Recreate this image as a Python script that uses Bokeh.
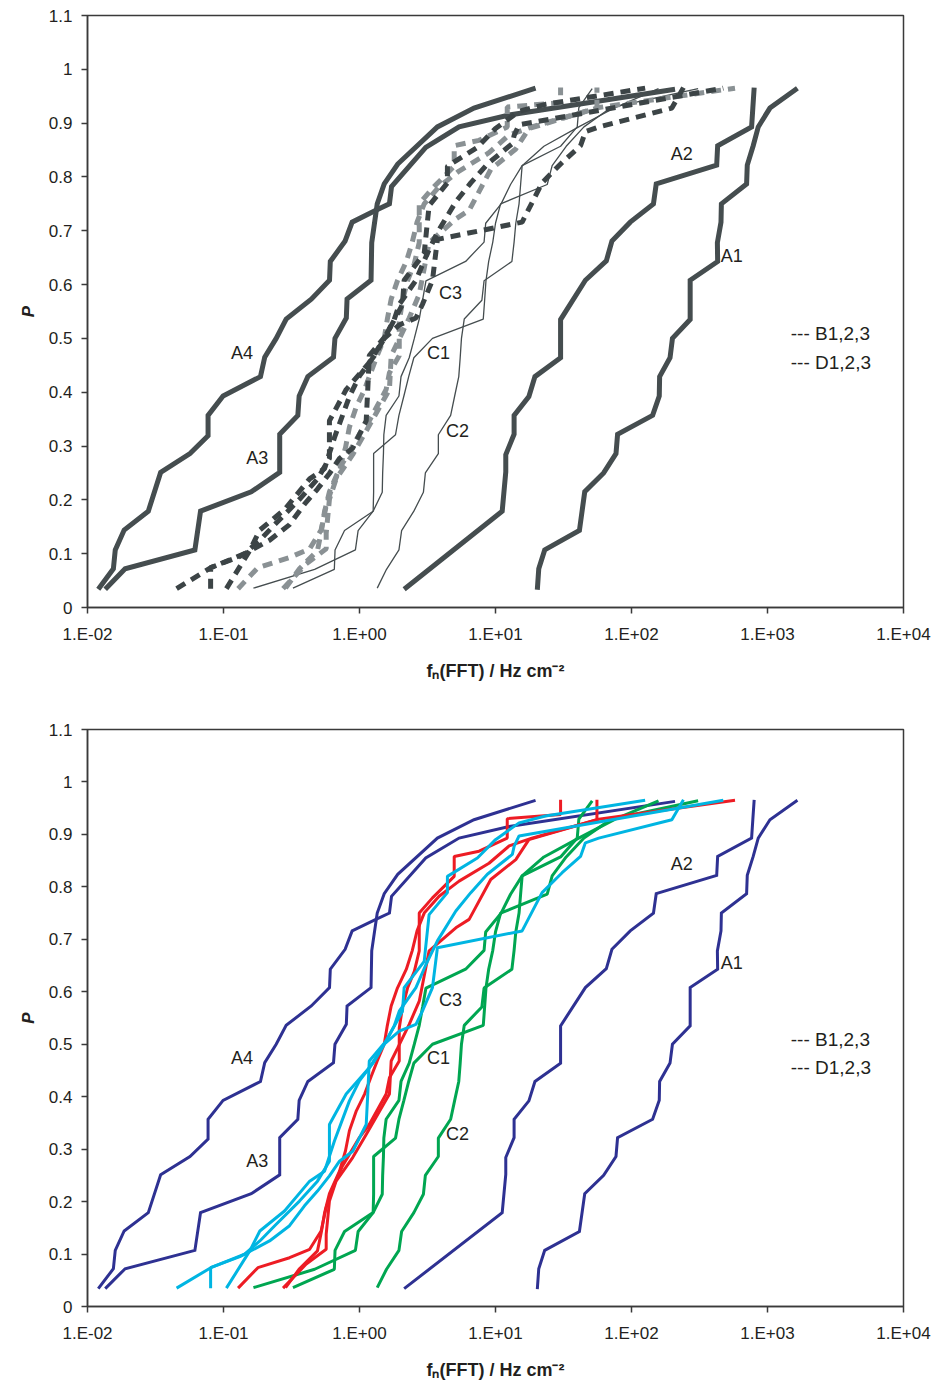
from bokeh.plotting import figure
from bokeh.models import FixedTicker, Label
from bokeh.layouts import column
from bokeh.embed import file_html
from bokeh.resources import INLINE

FONT = "Liberation Sans"
INK = "#231f20"
FRAME = "#3a3a3a"

X_TICKS = [0.01, 0.1, 1, 10, 100, 1000, 10000]
X_TICK_LABELS = ["1.E-02", "1.E-01", "1.E+00", "1.E+01", "1.E+02", "1.E+03", "1.E+04"]
Y_TICKS = [0, 0.1, 0.2, 0.3, 0.4, 0.5, 0.6, 0.7, 0.8, 0.9, 1.0, 1.1]
Y_TICK_LABELS = ["0", "0.1", "0.2", "0.3", "0.4", "0.5", "0.6", "0.7", "0.8", "0.9", "1", "1.1"]
X_TITLE = "f\u2099(FFT) / Hz cm\u207b\u00b2"
Y_TITLE = "P"

# ---- A curves (frequency, cumulative probability) ----
A1_F = [20.3, 20.8, 23.0, 41.4, 45.3, 62.4, 76.9, 79.0, 143, 160, 161, 192, 200, 270, 270,
        430, 428, 455, 458, 702, 710, 785, 855, 1042, 1660]
A1_P = [0.033, 0.072, 0.107, 0.143, 0.215, 0.25, 0.286, 0.322, 0.357, 0.393, 0.429, 0.464, 0.5,
        0.535, 0.608, 0.643, 0.678, 0.716, 0.75, 0.787, 0.822, 0.858, 0.893, 0.928, 0.965]

A2_F = [2.13, 11.2, 11.9, 11.9, 13.7, 13.7, 17.6, 19.5, 30.1, 30.1, 45.8, 65.3, 71.8, 97.9,
        145, 152, 423, 430, 764, 780, 798]
A2_P = [0.034, 0.179, 0.252, 0.284, 0.322, 0.357, 0.392, 0.429, 0.464, 0.535, 0.608, 0.644,
        0.681, 0.716, 0.75, 0.787, 0.822, 0.858, 0.893, 0.928, 0.966]

A3_F = [0.0135, 0.0189, 0.0616, 0.0678, 0.160, 0.259, 0.259, 0.352, 0.36, 0.417, 0.644, 0.66,
        0.80, 0.81, 1.216, 1.23, 1.35, 1.52, 1.91, 3.74, 6.95, 19.7]
A3_P = [0.034, 0.072, 0.107, 0.179, 0.215, 0.251, 0.322, 0.357, 0.393, 0.429, 0.465, 0.5,
        0.538, 0.573, 0.608, 0.678, 0.75, 0.787, 0.824, 0.893, 0.928, 0.965]

A4_F = [0.0120, 0.0155, 0.0160, 0.0186, 0.028, 0.0345, 0.0567, 0.077, 0.077, 0.0993, 0.187,
        0.201, 0.244, 0.289, 0.442, 0.602, 0.61, 0.784, 0.883, 1.32, 1.66, 1.72, 3.07, 5.4,
        12.6, 209]
A4_P = [0.034, 0.072, 0.107, 0.144, 0.179, 0.251, 0.286, 0.319, 0.357, 0.393, 0.429, 0.465,
        0.5, 0.536, 0.573, 0.608, 0.643, 0.681, 0.716, 0.738, 0.75, 0.782, 0.855, 0.893,
        0.915, 0.963]

# ---- C curves (27 points each) ----
C_P = [0.036, 0.071, 0.107, 0.143, 0.179, 0.214, 0.25, 0.286, 0.321, 0.357, 0.393, 0.429,
       0.464, 0.5, 0.536, 0.571, 0.607, 0.643, 0.679, 0.714, 0.75, 0.786, 0.821, 0.857,
       0.893, 0.929, 0.964]
C1_F = [0.324, 0.653, 0.661, 0.776, 1.26, 1.27, 1.27, 1.27, 1.84, 1.95, 2.12, 2.30, 2.51,
        3.44, 8.13, 8.32, 8.51, 8.91, 9.55, 10.0, 10.9, 24.0, 26.1, 33.1, 44.7, 70.8, 309]
C2_F = [1.35, 1.58, 1.95, 2.04, 2.51, 2.95, 3.05, 3.80, 3.80, 4.68, 5.01, 5.37, 5.50, 5.62,
        5.89, 7.94, 8.24, 13.2, 13.7, 14.1, 14.9, 15.3, 15.7, 22.7, 40.9, 75.9, 158]
C3_F = [0.166, 0.468, 0.933, 0.977, 1.26, 1.47, 1.48, 1.50, 1.51, 1.57, 1.95, 2.02, 2.32,
        2.53, 2.75, 2.91, 3.08, 6.03, 8.24, 8.47, 11.0, 12.9, 15.7, 30.1, 39.9, 41.0, 51.4]

# ---- B curves ----
B1_F = [0.0452, 0.0807, 0.143, 0.185, 0.238, 0.362, 0.491, 0.601, 0.601, 0.798, 1.18, 1.52,
        1.96, 2.60, 2.90, 3.44, 3.74, 15.7, 22.0, 30.9, 42.2, 45.8, 57.4, 198, 241]
B1_P = [0.035, 0.074, 0.100, 0.125, 0.154, 0.201, 0.239, 0.277, 0.347, 0.405, 0.455, 0.500,
        0.525, 0.538, 0.563, 0.608, 0.684, 0.716, 0.789, 0.827, 0.858, 0.884, 0.893, 0.928,
        0.966]
B2_F = [0.0804, 0.0804, 0.132, 0.218, 0.306, 0.394, 0.491, 0.601, 0.713, 0.891, 1.12, 1.15,
        1.18, 1.57, 2.07, 2.13, 2.99, 3.08, 3.25, 4.43, 4.43, 7.36, 10.0, 14.9, 23.3, 126]
B2_P = [0.035, 0.074, 0.095, 0.125, 0.154, 0.192, 0.220, 0.249, 0.277, 0.296, 0.347, 0.405,
        0.468, 0.506, 0.563, 0.608, 0.658, 0.690, 0.747, 0.789, 0.820, 0.855, 0.890, 0.922,
        0.935, 0.965]
B3_F = [0.105, 0.156, 0.185, 0.281, 0.430, 0.553, 0.655, 0.843, 0.998, 1.29, 1.52, 1.80,
        1.96, 2.60, 3.08, 3.74, 5.11, 6.58, 8.71, 13.3, 13.7, 14.9, 473]
B3_P = [0.035, 0.106, 0.144, 0.182, 0.239, 0.258, 0.316, 0.392, 0.430, 0.468, 0.500, 0.535,
        0.563, 0.608, 0.652, 0.697, 0.754, 0.789, 0.824, 0.862, 0.877, 0.897, 0.965]

# ---- D curves ----
D1_F = [0.128, 0.179, 0.306, 0.430, 0.522, 0.569, 0.637, 0.750, 0.843, 0.998, 1.18, 1.57,
        1.66, 1.96, 1.96, 2.07, 2.26, 2.53, 2.75, 2.75, 3.44, 4.97, 4.97, 7.57, 12.2, 12.2,
        30.1, 30.1]
D1_P = [0.035, 0.074, 0.093, 0.109, 0.144, 0.189, 0.227, 0.268, 0.290, 0.322, 0.347, 0.405,
        0.436, 0.468, 0.531, 0.570, 0.608, 0.639, 0.678, 0.750, 0.779, 0.820, 0.858, 0.868,
        0.893, 0.930, 0.938, 0.966]
D2_F = [0.274, 0.406, 0.569, 0.569, 0.601, 0.673, 0.891, 1.12, 1.66, 1.71, 1.91, 2.32, 2.75,
        2.99, 3.25, 5.11, 6.40, 9.23, 14.1, 17.6, 55.7, 55.7]
D2_P = [0.035, 0.081, 0.109, 0.138, 0.201, 0.239, 0.284, 0.328, 0.405, 0.468, 0.493, 0.538,
        0.582, 0.630, 0.678, 0.722, 0.738, 0.814, 0.852, 0.890, 0.928, 0.966]
D3_F = [0.286, 0.362, 0.491, 0.526, 0.553, 0.601, 0.713, 0.789, 0.843, 0.948, 1.09, 1.22,
        1.35, 1.52, 1.60, 1.71, 1.90, 2.21, 2.44, 2.65, 2.99, 3.85, 5.40, 8.96, 12.6, 18.5,
        57.4, 577]
D3_P = [0.036, 0.072, 0.106, 0.144, 0.178, 0.215, 0.258, 0.297, 0.335, 0.373, 0.405, 0.439,
        0.468, 0.500, 0.535, 0.573, 0.607, 0.643, 0.678, 0.716, 0.750, 0.782, 0.811, 0.845,
        0.878, 0.893, 0.929, 0.965]

CURVE_LABELS = ["A2", "A1", "A4", "A3", "C3", "C1", "C2"]
CURVE_LABEL_F = [234, 546, 0.137, 0.177, 4.67, 3.81, 5.25]
CURVE_LABEL_P = [0.843, 0.654, 0.473, 0.277, 0.585, 0.473, 0.328]
LEGEND_TEXT = ["--- B1,2,3", "--- D1,2,3"]
LEGEND_F = [1483, 1483]
LEGEND_P = [0.509, 0.455]


def make_fig(width, height, frame_w, border_top, border_bottom):
    p = figure(width=width, height=height, x_axis_type="log",
               x_range=(0.01, 10000), y_range=(0, 1.1),
               output_backend="svg", toolbar_location=None,
               min_border_left=87, min_border_right=width - 87 - frame_w,
               min_border_top=border_top, min_border_bottom=border_bottom)
    p.xgrid.visible = False
    p.ygrid.visible = False
    p.outline_line_color = FRAME
    p.outline_line_width = 1.5
    p.background_fill_color = "white"
    p.border_fill_color = "white"

    p.xaxis.ticker = FixedTicker(ticks=X_TICKS)
    p.xaxis.major_label_overrides = dict(zip(X_TICKS, X_TICK_LABELS))
    p.yaxis.ticker = FixedTicker(ticks=Y_TICKS)
    p.yaxis.major_label_overrides = dict(zip(Y_TICKS, Y_TICK_LABELS))
    for ax in (p.xaxis, p.yaxis):
        ax.axis_line_color = FRAME
        ax.axis_line_width = 1.5
        ax.major_tick_line_color = FRAME
        ax.major_tick_line_width = 1.5
        ax.major_tick_in = 0
        ax.major_tick_out = 6
        ax.minor_tick_line_color = None
        ax.major_label_text_font = FONT
        ax.major_label_text_font_size = "17px"
        ax.major_label_text_color = INK
        ax.axis_label_text_font = FONT
        ax.axis_label_text_color = INK
    p.xaxis.major_label_standoff = 11
    p.yaxis.major_label_standoff = 9

    p.yaxis.axis_label = Y_TITLE
    p.yaxis.axis_label_text_font_style = "bold italic"
    p.yaxis.axis_label_text_font_size = "17px"
    p.yaxis.axis_label_standoff = 8

    p.xaxis.axis_label = X_TITLE
    p.xaxis.axis_label_text_font_style = "bold"
    p.xaxis.axis_label_text_font_size = "18px"
    p.xaxis.axis_label_standoff = 14

    for t, f, pr in zip(CURVE_LABELS, CURVE_LABEL_F, CURVE_LABEL_P):
        p.add_layout(Label(x=f, y=pr, text=t, text_font=FONT, text_font_size="18px",
                           text_color=INK, text_align="center", text_baseline="middle"))
    for t, f, pr in zip(LEGEND_TEXT, LEGEND_F, LEGEND_P):
        p.add_layout(Label(x=f, y=pr, text=t, text_font=FONT, text_font_size="19px",
                           text_color=INK, text_align="left", text_baseline="middle"))
    return p


A_SET = [(A1_F, A1_P), (A2_F, A2_P), (A3_F, A3_P), (A4_F, A4_P)]
C_SET = [(C1_F, C_P), (C2_F, C_P), (C3_F, C_P)]
B_SET = [(B1_F, B1_P), (B2_F, B2_P), (B3_F, B3_P)]
D_SET = [(D1_F, D1_P), (D2_F, D2_P), (D3_F, D3_P)]

# ---- top (greyscale) ----
p1 = make_fig(937, 708, 816, 15, 101)
for f, pr in A_SET:
    p1.line(f, pr, line_color="#454d4f", line_width=5, line_join="miter")
for f, pr in C_SET:
    p1.line(f, pr, line_color="#454d4f", line_width=1.3)
for f, pr in D_SET:
    p1.line(f, pr, line_color="#8a9194", line_width=5, line_dash="10 7")
for f, pr in B_SET:
    p1.line(f, pr, line_color="#3c4446", line_width=5, line_dash="10 7")

# ---- bottom (colour) ----
p2 = make_fig(937, 676, 820, 21, 78)
for f, pr in A_SET:
    p2.line(f, pr, line_color="#2e3192", line_width=3, line_join="miter")
for f, pr in C_SET:
    p2.line(f, pr, line_color="#00a651", line_width=3)
for f, pr in D_SET:
    p2.line(f, pr, line_color="#ed1c24", line_width=3)
for f, pr in B_SET:
    p2.line(f, pr, line_color="#00b5e2", line_width=3)

layout = column(p1, p2, spacing=0)
open("out.html", "w").write(file_html(layout, INLINE))
